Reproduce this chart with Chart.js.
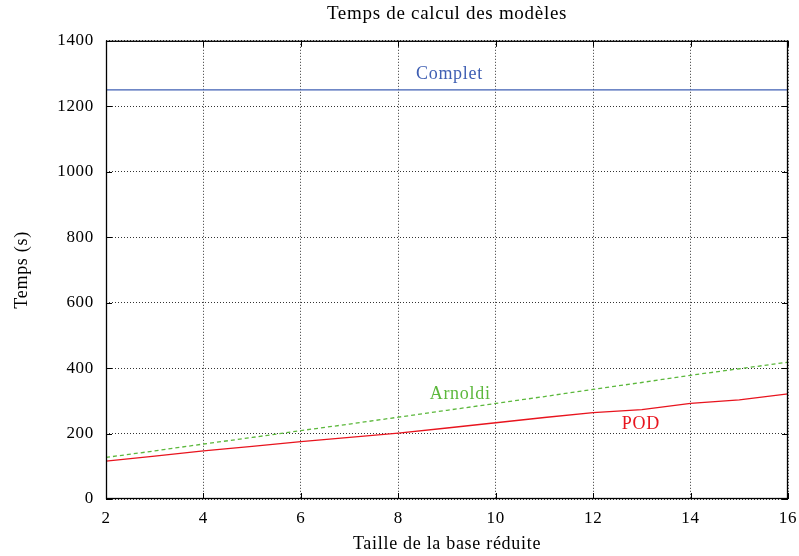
<!DOCTYPE html>
<html><head><meta charset="utf-8">
<script src="https://cdn.jsdelivr.net/npm/chart.js@4/dist/chart.umd.min.js"></script>
<style>html,body{margin:0;padding:0;background:#fff}#w{width:799px;height:556px}</style>
</head><body><div id="w"><canvas id="c"></canvas></div>
<script>
const xValues = [2,3,4,5,6,7,8,9,10,11,12,13,14,15,16];
const complet = [1250,1250,1250,1250,1250,1250,1250,1250,1250,1250,1250,1250,1250,1250,1250];
const arnoldi = [127,147,168,188,209,229,250,271,292,313,335,356,378,398,418];
const pod = [116,131,147,161,175,188,201,217,233,249,264,273,292,303,321];
const seriesNames = ['Complet','Arnoldi','POD'];
const seriesColors = ['#3f5fb3','#5cb83c','#e8141e'];
const labelX = [9.05, 9.27, 12.98];
const labelY = [1299, 321, 229];
const yTicks = [0,200,400,600,800,1000,1200,1400];
const xTicks = [2,4,6,8,10,12,14,16];

const FONT = "'Liberation Serif', serif";
const pts = a => a.map((v,i)=>({x:xValues[i], y:v}));

const spacing = {
  id:'spacing',
  beforeDraw(chart){ chart.ctx.letterSpacing = '0.7px'; }
};

const innerTicks = {
  id:'innerTicks',
  afterDatasetsDraw(chart){
    const {ctx, chartArea:a, scales:{x,y}} = chart;
    ctx.save();
    ctx.strokeStyle='#000'; ctx.lineWidth=1;
    ctx.beginPath();
    const L=6;
    xTicks.forEach(v=>{const p=Math.round(x.getPixelForValue(v))+0.5;
      ctx.moveTo(p,a.bottom); ctx.lineTo(p,a.bottom-L);
      ctx.moveTo(p,a.top); ctx.lineTo(p,a.top+L);});
    yTicks.forEach(v=>{const p=Math.round(y.getPixelForValue(v))+0.5;
      ctx.moveTo(a.left,p); ctx.lineTo(a.left+L,p);
      ctx.moveTo(a.right,p); ctx.lineTo(a.right-L,p);});
    ctx.stroke();
    ctx.lineWidth=1.3;
    ctx.strokeRect(a.left+0.5,a.top+0.5,a.right-a.left-1,a.bottom-a.top-1);
    ctx.font = "18px " + FONT;
    ctx.letterSpacing = '0.7px';
    ctx.textAlign='center'; ctx.textBaseline='middle';
    seriesNames.forEach((n,i)=>{
      ctx.fillStyle=seriesColors[i];
      ctx.fillText(n, x.getPixelForValue(labelX[i]), y.getPixelForValue(labelY[i]));
    });
    ctx.restore();
  }
};

new Chart(document.getElementById('c'), {
  type:'line',
  data:{datasets:[
    {label:'Complet', data:pts(complet), borderColor:seriesColors[0], borderWidth:1.3, pointRadius:0, tension:0},
    {label:'Arnoldi', data:pts(arnoldi), borderColor:seriesColors[1], borderWidth:1.3, borderDash:[4,3], pointRadius:0, tension:0},
    {label:'POD', data:pts(pod), borderColor:seriesColors[2], borderWidth:1.3, pointRadius:0, tension:0}
  ]},
  options:{
    responsive:true, maintainAspectRatio:false, animation:false,
    layout:{padding:{left:0,right:11,top:0,bottom:0}},
    plugins:{
      legend:{display:false}, tooltip:{enabled:false},
      title:{display:true, fullSize:false, text:'Temps de calcul des modèles', color:'#000',
        font:{family:FONT, size:19, weight:'normal', lineHeight:1.2}, padding:{top:3,bottom:15}}
    },
    scales:{
      x:{type:'linear', min:2, max:16,
        afterBuildTicks(s){s.ticks = xTicks.map(v=>({value:v}));},
        afterFit(s){s.height=57; s.paddingLeft=0; s.paddingRight=0;},
        grid:{color:'rgba(0,0,0,0.8)', drawTicks:false, lineWidth:1},
        border:{display:false, dash:[1,2]},
        ticks:{color:'#000', padding:9, maxRotation:0, font:{family:FONT,size:17}, callback:v=>String(v)},
        title:{display:true, text:'Taille de la base réduite', color:'#000', font:{family:FONT,size:18}, padding:{top:0,bottom:1}}
      },
      y:{type:'linear', min:0, max:1400,
        afterBuildTicks(s){s.ticks = yTicks.map(v=>({value:v}));},
        afterFit(s){s.width=106;},
        grid:{color:'rgba(0,0,0,0.8)', drawTicks:false, lineWidth:1},
        border:{display:false, dash:[1,2]},
        ticks:{color:'#000', padding:12, font:{family:FONT,size:17}, callback:v=>String(v)},
        title:{display:true, text:'Temps (s)', color:'#000', font:{family:FONT,size:18}, padding:{top:11,bottom:0}}
      }
    }
  },
  plugins:[spacing, innerTicks]
});
</script></body></html>
